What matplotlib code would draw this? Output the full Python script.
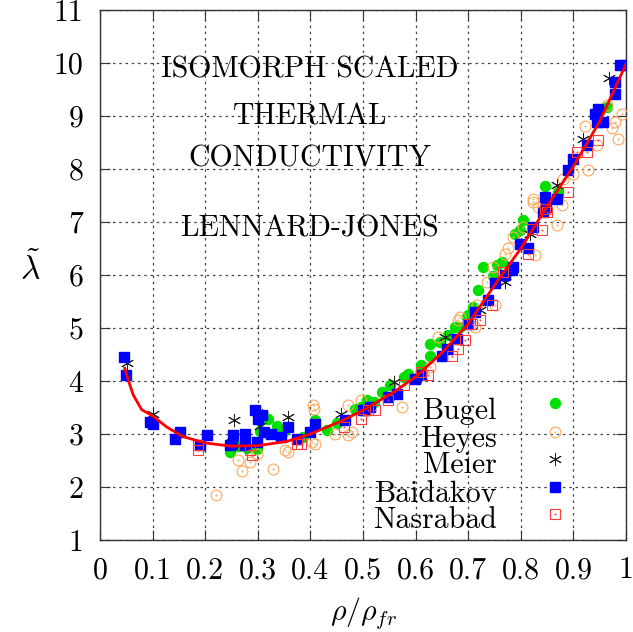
import matplotlib
matplotlib.use("Agg")
import matplotlib.pyplot as plt

plt.rcParams["font.family"] = "cmr10"
plt.rcParams["mathtext.fontset"] = "cm"
plt.rcParams["axes.formatter.use_mathtext"] = True

# red fit curve
fit_x = [0.047, 0.055, 0.063, 0.079, 0.10, 0.127, 0.158, 0.20, 0.25, 0.30, 0.355, 0.40,
         0.46, 0.50, 0.56, 0.60, 0.65, 0.70, 0.76, 0.80, 0.85, 0.90, 0.95, 1.0]
fit_y = [4.24, 3.98, 3.74, 3.46, 3.34, 3.13, 2.95, 2.83, 2.77, 2.78, 2.86, 3.00,
         3.25, 3.45, 3.80, 4.08, 4.53, 5.08, 5.95, 6.50, 7.30, 8.05, 8.90, 9.98]

bugel_x = [0.247, 0.263, 0.28, 0.298, 0.305, 0.32, 0.336, 0.35, 0.385, 0.409, 0.431, 0.45,
           0.485, 0.497, 0.507, 0.52, 0.536, 0.551, 0.577, 0.586, 0.611, 0.627, 0.627, 0.646,
           0.662, 0.675, 0.684, 0.697, 0.70, 0.71, 0.719, 0.729, 0.748, 0.755, 0.764, 0.789,
           0.798, 0.805, 0.846, 0.871, 0.963]
bugel_y = [2.66, 2.78, 2.74, 2.72, 3.05, 3.29, 3.16, 3.05, 2.95, 3.26, 3.07, 3.20,
           3.48, 3.51, 3.64, 3.60, 3.79, 3.92, 4.08, 4.14, 4.30, 4.48, 4.70, 4.74,
           4.86, 5.02, 5.02, 5.21, 5.24, 5.40, 5.71, 6.15, 5.99, 6.19, 6.25, 6.78,
           6.84, 7.03, 7.68, 7.57, 9.17]

heyes_x = [0.221, 0.263, 0.269, 0.285, 0.298, 0.328, 0.352, 0.358, 0.404, 0.407, 0.403, 0.409,
           0.447, 0.472, 0.479, 0.472, 0.497, 0.574, 0.627, 0.643, 0.681, 0.684, 0.713, 0.716,
           0.735, 0.748, 0.751, 0.77, 0.776, 0.786, 0.805, 0.824, 0.824, 0.827, 0.833, 0.868,
           0.878, 0.881, 0.90, 0.922, 0.928, 0.944, 0.963, 0.973, 0.979, 0.985, 0.992]
heyes_y = [1.84, 2.51, 2.30, 2.47, 2.62, 2.33, 2.69, 2.66, 3.55, 3.48, 2.85, 2.82,
           3.00, 2.98, 3.04, 3.54, 3.64, 3.51, 4.26, 4.83, 5.15, 5.21, 5.02, 5.43,
           5.87, 6.15, 5.43, 6.40, 6.50, 6.72, 6.91, 7.44, 7.38, 6.37, 7.28, 6.94,
           7.32, 7.82, 7.91, 8.82, 7.98, 8.45, 9.20, 8.77, 8.89, 8.57, 9.04]

meier_x = [0.051, 0.10, 0.255, 0.305, 0.307, 0.358, 0.459, 0.558, 0.61, 0.656, 0.722, 0.77,
           0.817, 0.868, 0.918, 0.968]
meier_y = [4.33, 3.38, 3.27, 3.16, 3.35, 3.32, 3.38, 3.98, 4.10, 4.83, 5.33, 5.87,
           6.78, 7.70, 8.57, 9.72]

baid_x = [0.046, 0.049, 0.095, 0.10, 0.143, 0.152, 0.19, 0.204, 0.247, 0.253, 0.25, 0.276,
          0.276, 0.295, 0.301, 0.307, 0.311, 0.298, 0.326, 0.345, 0.358, 0.374, 0.399, 0.409,
          0.466, 0.50, 0.504, 0.513, 0.548, 0.564, 0.599, 0.611, 0.65, 0.659, 0.678, 0.70,
          0.713, 0.738, 0.751, 0.77, 0.783, 0.786, 0.798, 0.814, 0.824, 0.843, 0.848, 0.846,
          0.868, 0.89, 0.90, 0.925, 0.941, 0.944, 0.957, 0.947, 0.979, 0.979, 0.989, 0.998]
baid_y = [4.45, 4.11, 3.23, 3.18, 2.91, 3.04, 2.79, 2.98, 2.79, 2.98, 2.82, 3.00,
          2.79, 3.45, 3.29, 3.35, 3.04, 2.85, 3.00, 2.94, 3.13, 2.91, 3.04, 3.19,
          3.26, 3.45, 3.45, 3.51, 3.70, 3.76, 4.04, 4.11, 4.48, 4.61, 4.80, 5.08,
          5.30, 5.52, 5.84, 6.00, 6.09, 6.15, 6.59, 6.50, 6.91, 7.19, 7.28, 7.47,
          7.44, 7.98, 8.19, 8.45, 9.04, 8.89, 8.89, 9.14, 9.42, 9.64, 9.96, 9.96]

nasr_x = [0.187, 0.187, 0.285, 0.288, 0.374, 0.383, 0.463, 0.497, 0.51, 0.523, 0.548, 0.577,
          0.611, 0.624, 0.669, 0.681, 0.694, 0.70, 0.707, 0.722, 0.745, 0.767, 0.814, 0.821,
          0.84, 0.846, 0.849, 0.89, 0.906, 0.925, 0.947]
nasr_y = [2.69, 2.79, 2.69, 2.60, 2.82, 2.82, 3.13, 3.29, 3.45, 3.45, 3.64, 3.92,
          4.17, 4.11, 4.48, 4.61, 4.77, 5.08, 5.08, 5.15, 5.43, 6.06, 6.40, 6.87,
          6.84, 7.25, 7.19, 7.57, 8.32, 8.32, 8.54]

title_lines = ["ISOMORPH SCALED", "THERMAL", "CONDUCTIVITY", "LENNARD-JONES"]
names = ["Bugel", "Heyes", "Meier", "Baidakov", "Nasrabad"]

green = "#00e000"
orange = "#ffa858"
red_sq = "#ff3b3b"

fig = plt.figure(figsize=(6.33, 6.32), dpi=100)
ax = fig.add_axes([0.158, 0.1456, 0.831, 0.8386])

styles = [
    dict(marker="o", ms=7.2, color=green, mec=green, ls="none"),
    dict(marker="o", ms=7.8, mfc="none", mec=orange, mew=0.8, ls="none"),
    dict(marker=(6, 2, 0), ms=9.5, color="#222222", mew=0.7, ls="none"),
    dict(marker="s", ms=7.6, color="#0000ff", mec="#0000ff", ls="none"),
    dict(marker="s", ms=7.2, mfc="none", mec=red_sq, mew=0.8, ls="none"),
]
series = [(bugel_x, bugel_y), (heyes_x, heyes_y), (meier_x, meier_y),
          (baid_x, baid_y), (nasr_x, nasr_y)]

for (sx, sy), st in zip(series, styles):
    ax.plot(sx, sy, **st, zorder=3)
ax.plot(heyes_x, heyes_y, ".", ms=1, color=orange, zorder=3)
ax.plot(nasr_x, nasr_y, ".", ms=1, color=red_sq, zorder=3)

ax.plot(fit_x, fit_y, color="#ff0000", lw=2.0, zorder=4)

# legend, gnuplot style: text then marker
mark_rows = [0.2585, 0.2043, 0.1528, 0.1006, 0.0491]
text_rows = [0.2277, 0.1760, 0.1258, 0.0723, 0.0221]
for name, ty, my, st in zip(names, text_rows, mark_rows, styles):
    ax.text(0.755, ty, name, transform=ax.transAxes, ha="right", va="baseline", fontsize=21.5)
    ax.plot([0.865], [my], transform=ax.transAxes, clip_on=False, zorder=5, **st)
ax.plot([0.865], [mark_rows[1]], ".", ms=1, color=orange, transform=ax.transAxes, zorder=5)
ax.plot([0.865], [mark_rows[4]], ".", ms=1, color=red_sq, transform=ax.transAxes, zorder=5)

for line, yy in zip(title_lines, [0.888, 0.799, 0.720, 0.588]):
    ax.text(0.399, yy, line, transform=ax.transAxes, ha="center", va="center", fontsize=21.5)

ax.set_xlim(0, 1)
ax.set_ylim(1, 11)
ax.set_xticks([i / 10 for i in range(11)],
              ["0"] + ["0.%d" % i for i in range(1, 10)] + ["1"])
ax.set_yticks(range(1, 12), [str(i) for i in range(1, 12)])
ax.tick_params(direction="in", length=7, width=0.8, top=True, right=True,
               labelsize=21.5, color="#333333")
ax.tick_params(axis="x", pad=12)
ax.tick_params(axis="y", pad=12)
ax.grid(True, color="#444444", lw=0.9, ls=(0, (2, 3)))
ax.set_axisbelow(True)
for sp in ax.spines.values():
    sp.set_color("#333333")
    sp.set_linewidth(1.0)

ax.set_xlabel(r"$\rho/\rho_{fr}$", fontsize=21.5, labelpad=8)
ax.set_ylabel(r"$\tilde{\lambda}$", fontsize=24, rotation=0, va="center", ha="center")
ax.yaxis.set_label_coords(-0.133, 0.513)

fig.savefig("out.png", dpi=100)
